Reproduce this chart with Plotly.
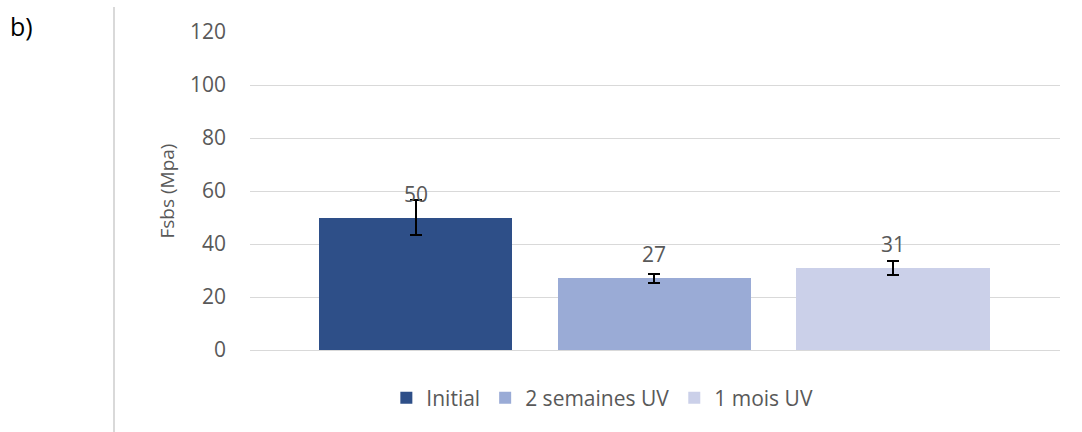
import plotly.graph_objects as go

# Series (one category, three treatment conditions)
series_names = ["Initial", "2 semaines UV", "1 mois UV"]
fsbs_values = [50, 27, 31]
fsbs_errors = [6.6, 1.7, 2.6]
bar_colors = ["#2e4f88", "#9aabd6", "#cbd0e9"]

y_ticks = [0, 20, 40, 60, 80, 100, 120]

GREY = "#595959"
FONT = "Open Sans, DejaVu Sans, sans-serif"

fig = go.Figure()
for i, (name, val, err, col) in enumerate(zip(series_names, fsbs_values, fsbs_errors, bar_colors)):
    fig.add_trace(go.Bar(
        x=[i], y=[val], name=name,
        marker=dict(color=col, line=dict(width=0)),
        width=0.81,
        error_y=dict(type="data", array=[err], color="black", thickness=2, width=6),
        showlegend=True,
    ))
    # value label above the bar
    fig.add_annotation(
        x=i, y=val, text=f"{val:.0f}", showarrow=False,
        yshift=24, font=dict(family=FONT, size=21, color=GREY),
        xref="x", yref="y",
    )

fig.update_layout(
    width=1082, height=432,
    margin=dict(l=250, r=22, t=32, b=82),
    paper_bgcolor="white", plot_bgcolor="white",
    font=dict(family=FONT, color=GREY, size=21),
    bargap=0,
    xaxis=dict(range=[-0.695, 2.70], showticklabels=False, showgrid=False,
               zeroline=False, showline=False, ticks=""),
    yaxis=dict(range=[0, 120], tickvals=y_ticks, showgrid=True,
               gridcolor="#d9d9d9", gridwidth=1, zeroline=True,
               zerolinecolor="#d9d9d9", zerolinewidth=1, showline=False,
               ticks="", ticklabelstandoff=23,
               tickfont=dict(family=FONT, size=21, color=GREY),
               title=dict(text="Fsbs (Mpa)", standoff=10,
                          font=dict(family=FONT, size=19, color=GREY))),
    legend=dict(orientation="h", x=0.435, xanchor="center", y=-0.151,
                yanchor="middle", font=dict(family=FONT, size=21, color=GREY),
                itemclick=False, traceorder="normal"),
)

# panel letter and separator line on the left
fig.add_annotation(xref="paper", yref="paper", x=0, y=1, xshift=-242, yshift=6,
                   xanchor="left", yanchor="middle", text="b)", showarrow=False,
                   font=dict(family=FONT, size=25, color="black"))
fig.add_shape(type="line", xref="paper", yref="paper",
              x0=(114 - 250) / 810, x1=(114 - 250) / 810,
              y0=(350 - 7) / 318, y1=(350 - 432) / 318,
              line=dict(color="#d9d9d9", width=2))

fig.write_html("out.html")
